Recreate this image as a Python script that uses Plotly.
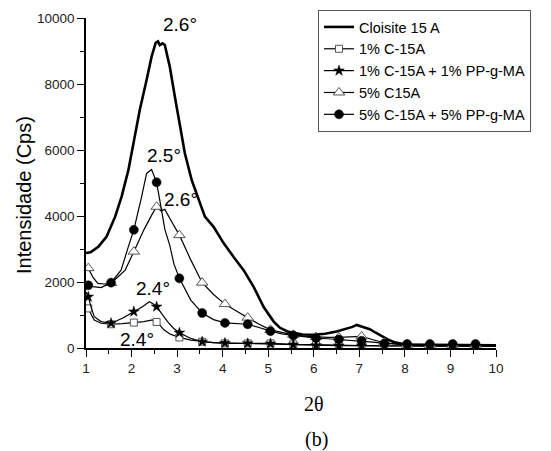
import numpy as np
import plotly.graph_objects as go

# ---------------- data ----------------
cloisite_x = [1.00, 1.10, 1.27, 1.45, 1.64, 1.78, 1.93, 2.07, 2.18, 2.33, 2.44, 2.53, 2.58, 2.62,
              2.68, 2.73, 2.84, 2.95, 3.06, 3.17, 3.32, 3.50, 3.61, 3.80, 4.02, 4.24, 4.46, 4.68,
              4.90, 5.12, 5.25, 5.42, 5.57, 5.75, 6.00, 6.25, 6.50, 6.70, 6.85, 6.94, 7.05, 7.15,
              7.23, 7.35, 7.52, 7.65, 7.78, 7.90, 8.03, 8.50, 9.00, 9.50, 10.0]
cloisite_y = [2880, 2900, 3070, 3370, 3980, 4580, 5390, 6400, 7210, 8120, 8830, 9250, 9290, 9180,
              9230, 9180, 8520, 7620, 6810, 5900, 5090, 4380, 3980, 3670, 3180, 2760, 2360, 1850,
              1240, 800, 620, 500, 450, 410, 400, 430, 500, 580, 640, 700, 650, 620,
              570, 470, 330, 240, 170, 130, 100, 80, 70, 70, 70]

c1_x = [1.00, 1.05, 1.12, 1.18, 1.33, 1.55, 1.80, 2.05, 2.27, 2.46, 2.55, 2.63, 2.71, 2.85, 3.05,
        3.30, 3.55, 3.80, 4.05, 4.55, 5.05, 5.55, 6.05, 6.55, 7.05, 7.55, 8.05, 8.55, 9.05, 9.55, 10.0]
c1_y = [1300, 1200, 1000, 850, 750, 720, 740, 770, 800, 850, 790, 680, 550, 420, 320,
        240, 190, 160, 140, 140, 140, 110, 90, 80, 70, 60, 60, 60, 60, 60, 60]

c1pp_x = [1.00, 1.05, 1.12, 1.18, 1.33, 1.55, 1.80, 2.05, 2.24, 2.39, 2.47, 2.55, 2.67, 2.79, 2.92,
          3.05, 3.30, 3.55, 3.80, 4.05, 4.55, 5.05, 5.55, 6.05, 6.55, 7.05, 7.55, 8.05, 8.55,
          9.05, 9.55, 10.0]
c1pp_y = [1700, 1550, 1200, 950, 800, 750, 900, 1100, 1250, 1400, 1340, 1250, 1030, 800, 600,
          460, 290, 190, 160, 150, 140, 130, 100, 80, 70, 70, 60, 60, 60, 60, 60, 60]

c5_x = [1.00, 1.05, 1.15, 1.26, 1.40, 1.55, 1.70, 1.86, 2.05, 2.27, 2.45, 2.55, 2.65, 2.73, 2.85,
        3.05, 3.30, 3.55, 3.80, 4.05, 4.30, 4.55, 4.80, 5.05, 5.30, 5.55, 5.80, 6.05, 6.30, 6.55,
        6.80, 7.05, 7.30, 7.55, 7.80, 8.05, 8.55, 9.05, 9.55, 10.0]
c5_y = [2450, 2420, 2150, 1960, 1940, 1970, 2150, 2360, 2920, 3580, 4050, 4280, 4150, 4200, 3900,
        3420, 2670, 1980, 1620, 1330, 1120, 920, 720, 550, 470, 400, 360, 330, 320, 320,
        340, 350, 250, 160, 120, 100, 100, 100, 100, 90]

c5pp_x = [1.00, 1.05, 1.15, 1.33, 1.55, 1.77, 1.93, 2.05, 2.22, 2.33, 2.44, 2.55, 2.63, 2.73, 2.84,
          2.93, 3.05, 3.30, 3.55, 3.80, 4.05, 4.30, 4.55, 4.80, 5.05, 5.30, 5.55, 5.80, 6.05, 6.30,
          6.55, 6.80, 7.05, 7.30, 7.55, 7.80, 8.05, 8.55, 9.05, 9.55, 10.0]
c5pp_y = [1950, 1900, 1860, 1830, 1980, 2360, 3070, 3580, 4580, 5290, 5410, 5020, 4400, 3600, 3100,
          2550, 2110, 1450, 1060, 860, 760, 740, 720, 620, 510, 430, 380, 330, 300, 280,
          260, 240, 220, 180, 140, 125, 120, 120, 120, 120, 100]

series_names = ["Cloisite 15 A", "1% C-15A", "1% C-15A + 1% PP-g-MA", "5% C15A",
                "5% C-15A + 5% PP-g-MA"]

peak_labels = ["2.6°", "2.5°", "2.6°", "2.4°", "2.4°"]
peak_label_x = [3.06, 2.71, 3.08, 2.46, 2.13]
peak_label_y = [9800, 5820, 4500, 1800, 260]

marker_x = list(np.round(np.arange(1.05, 9.6, 0.5), 2))

# ---------------- figure ----------------
fig = go.Figure()
FONT = "Liberation Sans, Arial, sans-serif"

fig.add_trace(go.Scatter(x=cloisite_x, y=cloisite_y, mode="lines", name=series_names[0],
                         line=dict(color="black", width=2.6)))

styles = [
    (c1_x, c1_y, series_names[1], dict(symbol="square", size=7, color="white",
                                        line=dict(color="#555", width=1))),
    (c1pp_x, c1pp_y, series_names[2], dict(symbol="star", size=8, color="black",
                                            line=dict(color="black", width=0.5))),
    (c5_x, c5_y, series_names[3], dict(symbol="triangle-up", size=10, color="white",
                                        line=dict(color="#555", width=1))),
    (c5pp_x, c5pp_y, series_names[4], dict(symbol="circle", size=9, color="black",
                                            line=dict(color="black", width=0.5))),
]

for xs, ys, name, mk in styles:
    fig.add_trace(go.Scatter(x=xs, y=ys, mode="lines", showlegend=False, legendgroup=name,
                             line=dict(color="black", width=1.2)))
    mxs = [x for x in xs if any(abs(x - m) < 1e-6 for m in marker_x)]
    mys = [y for x, y in zip(xs, ys) if any(abs(x - m) < 1e-6 for m in marker_x)]
    fig.add_trace(go.Scatter(x=mxs, y=mys, mode="markers", showlegend=False, legendgroup=name,
                             marker=mk))
    fig.add_trace(go.Scatter(x=[None], y=[None], mode="lines+markers", name=name,
                             legendgroup=name, line=dict(color="black", width=1.2), marker=mk))

for t, x, y in zip(peak_labels, peak_label_x, peak_label_y):
    fig.add_annotation(x=x, y=y, text=t, showarrow=False, font=dict(family=FONT, size=19,
                       color="black"))

# positions below are given in window pixels relative to the plot area (86..496, 18..348)
fig.add_annotation(xref="paper", yref="paper", x=(313.5 - 86) / 410, y=-(404 - 348) / 330,
                   text="2θ", showarrow=False, xanchor="center", yanchor="middle",
                   font=dict(family="Liberation Serif, Times New Roman, serif", size=20, color="black"))
fig.add_annotation(xref="paper", yref="paper", x=(316 - 86) / 410, y=-(439 - 348) / 330,
                   text="(b)", showarrow=False, xanchor="center", yanchor="middle",
                   font=dict(family="Liberation Serif, Times New Roman, serif", size=20, color="black"))
fig.add_annotation(xref="paper", yref="paper", x=(24 - 86) / 410, y=(348 - 195) / 330,
                   text="Intensidade (Cps)", textangle=-90, showarrow=False,
                   xanchor="center", yanchor="middle",
                   font=dict(family=FONT, size=20, color="black"))

axis_common = dict(showgrid=False, zeroline=False, showline=True, linecolor="black", linewidth=1.5,
                   ticks="outside", ticklen=7, tickwidth=1.2, tickcolor="black",
                   tickfont=dict(family=FONT, size=13.5, color="#222"), mirror=False,
                   automargin=False)

fig.update_xaxes(range=[1, 10], tickmode="linear", tick0=1, dtick=1,
                 minor=dict(ticks="outside", ticklen=4, tickwidth=1.2, tickcolor="black", dtick=0.5,
                            tick0=1),
                 **axis_common)
fig.update_yaxes(range=[0, 10000], tickmode="linear", tick0=0, dtick=2000, tickformat="d",
                 minor=dict(ticks="outside", ticklen=4, tickwidth=1.2, tickcolor="black", dtick=1000,
                            tick0=0),
                 **axis_common)

# the page body has an 8px margin, so the figure is sized/offset to compensate
fig.update_layout(
    width=543, height=443,
    margin=dict(l=78, r=55, t=10, b=103, autoexpand=False),
    plot_bgcolor="white", paper_bgcolor="white",
    legend=dict(x=(318 - 86) / 410, y=(348 - 10) / 330, xanchor="left", yanchor="top",
                bgcolor="white", bordercolor="#555", borderwidth=1, tracegroupgap=0,
                font=dict(family=FONT, size=14.5, color="black"), itemwidth=30),
)

fig.write_html("out.html")
